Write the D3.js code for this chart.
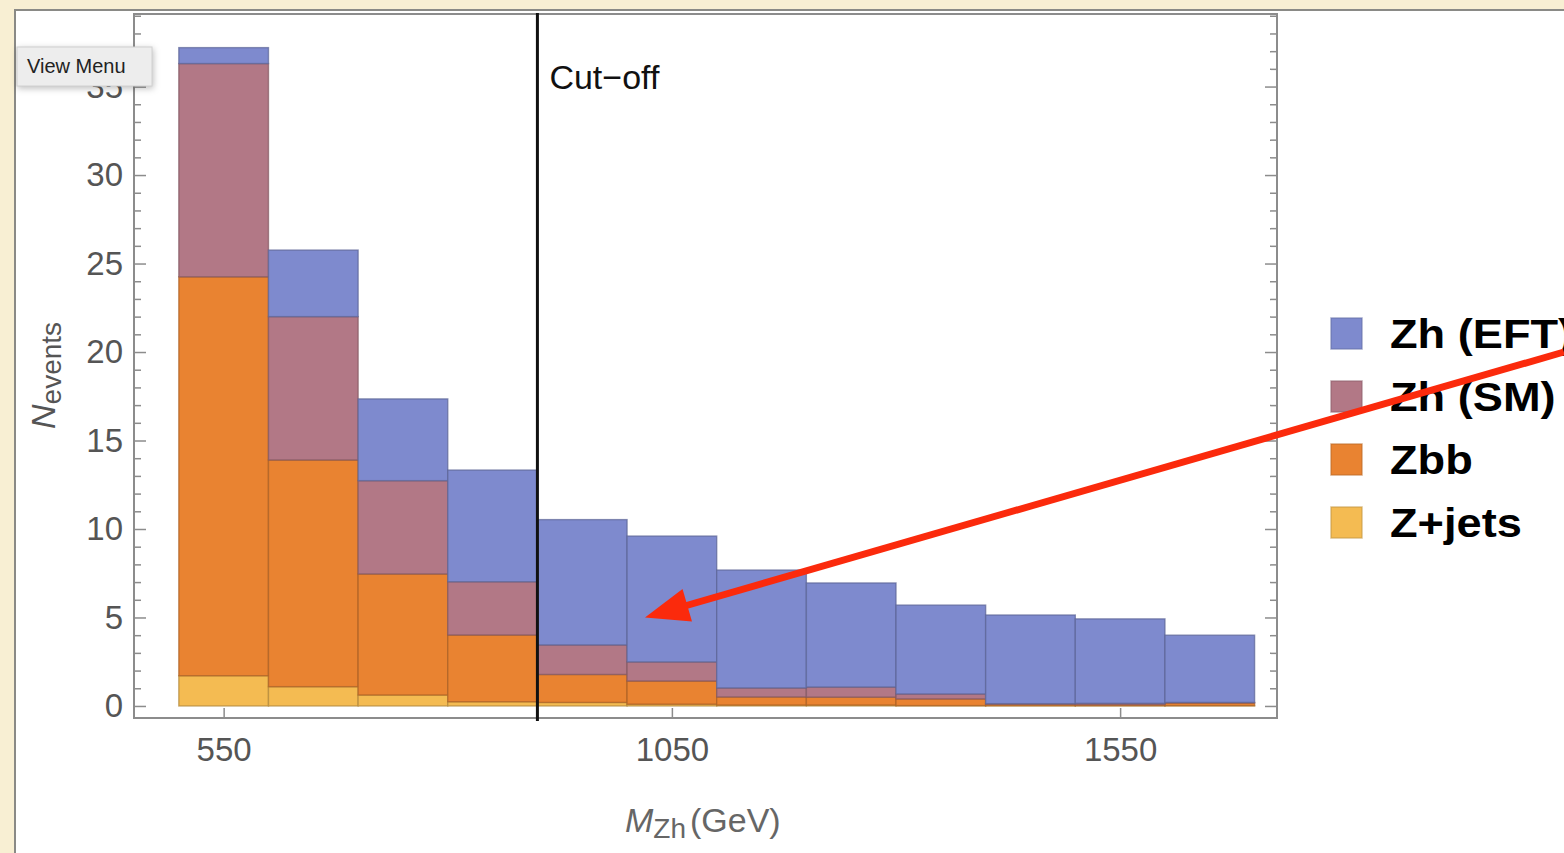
<!DOCTYPE html>
<html>
<head>
<meta charset="utf-8">
<script src="https://cdn.jsdelivr.net/npm/d3@7"></script>
<style>
body { margin: 0; background: #f8efd3; overflow: hidden; }
text { font-family: "Liberation Sans", Arial, sans-serif; }
</style>
</head>
<body>
<script>
// histogram bins (GeV), 100 GeV wide
var binStart = [500, 600, 700, 800, 900, 1000, 1100, 1200, 1300, 1400, 1500, 1600];
var binWidth = 100;
// events per bin, stacked bottom to top
var zJets = [1.71, 1.09, 0.62, 0.24, 0.20, 0.10, 0.05, 0.05, 0.02, 0.02, 0.02, 0.02];
var zbb   = [22.54, 12.81, 6.84, 3.77, 1.58, 1.31, 0.46, 0.45, 0.38, 0.08, 0.06, 0.15];
var zhSM  = [12.05, 8.10, 5.27, 3.01, 1.67, 1.08, 0.51, 0.57, 0.28, 0.03, 0.07, 0.03];
var zhEFT = [0.90, 3.76, 4.62, 6.31, 7.08, 7.11, 6.66, 5.88, 5.02, 5.01, 4.77, 3.80];

var legendNames = ["Zh (EFT)", "Zh (SM)", "Zbb", "Z+jets"];
var legendKeys = ["eft", "sm", "zbb", "zjets"];
var colors = {eft: "#7e8ace", sm: "#b27886", zbb: "#e98331", zjets: "#f4bb52"};
var xTicks = [550, 1050, 1550];
var yTicks = [0, 5, 10, 15, 20, 25, 30, 35];
var cutoff = 900;
// arrow from legend (off to the right) down to the EFT excess
var arrowFrom = [2045, 20];
var arrowTo = [1020, 5];

var W = 1564, H = 853;
var svg = d3.select("body").append("svg")
	.attr("width", W)
	.attr("height", H);

// white notebook panel
svg.append("rect")
	.attr("x", 15).attr("y", 10)
	.attr("width", W).attr("height", H)
	.attr("fill", "#fff")
	.attr("stroke", "#8a8a86")
	.attr("stroke-width", 2);

var plot = {left: 134, right: 1277, top: 14, bottom: 718};
var x = d3.scaleLinear().domain([450, 1725]).range([plot.left, plot.right]);
var y = d3.scaleLinear().domain([-0.68, 39.1]).range([plot.bottom, plot.top]);

var rows = binStart.map(function(b, i) {
	return {bin: b, zjets: zJets[i], zbb: zbb[i], sm: zhSM[i], eft: zhEFT[i]};
});
var stacked = d3.stack().keys(["zjets", "zbb", "sm", "eft"])(rows);

var g = svg.append("g");
stacked.forEach(function(layer) {
	var c = colors[layer.key];
	g.append("g").selectAll("rect")
		.data(layer)
		.enter()
		.append("rect")
		.attr("x", function(d) { return x(d.data.bin); })
		.attr("width", function(d) { return x(d.data.bin + binWidth) - x(d.data.bin); })
		.attr("y", function(d) { return y(d[1]); })
		.attr("height", function(d) { return Math.max(0, y(d[0]) - y(d[1])); })
		.attr("fill", c)
		.attr("stroke", d3.color(c).darker(0.9))
		.attr("stroke-opacity", 0.7)
		.attr("stroke-width", 1.4);
});

// frame + ticks
var axisColor = "#8c8c8c";
var yMinor = d3.range(0, 40, 1).filter(function(v) { return v % 5 != 0; });

svg.append("g").attr("transform", "translate(" + plot.left + ",0)")
	.call(d3.axisLeft(y).tickValues(yMinor).tickSize(-7).tickFormat(""));
svg.append("g").attr("transform", "translate(" + plot.left + ",0)")
	.call(d3.axisLeft(y).tickValues(yTicks).tickSize(-12).tickPadding(11));

svg.append("g").attr("transform", "translate(" + plot.right + ",0)")
	.call(d3.axisRight(y).tickValues(yMinor).tickSize(-7).tickFormat(""));
svg.append("g").attr("transform", "translate(" + plot.right + ",0)")
	.call(d3.axisRight(y).tickValues(yTicks).tickSize(-12).tickFormat(""));

svg.append("g").attr("transform", "translate(0," + plot.bottom + ")")
	.call(d3.axisBottom(x).tickValues(xTicks).tickSize(-10).tickPadding(20).tickFormat(d3.format("d")));

svg.selectAll(".domain").remove();
svg.selectAll(".tick line").attr("stroke", axisColor).attr("stroke-width", 1.5);
svg.selectAll(".tick text").attr("fill", "#555").attr("font-size", 33).attr("font-family", "Liberation Sans, Arial, sans-serif");

svg.append("rect")
	.attr("x", plot.left).attr("y", plot.top)
	.attr("width", plot.right - plot.left)
	.attr("height", plot.bottom - plot.top)
	.attr("fill", "none")
	.attr("stroke", axisColor)
	.attr("stroke-width", 2);

// cut-off line
svg.append("line")
	.attr("x1", x(cutoff)).attr("x2", x(cutoff))
	.attr("y1", plot.top - 1).attr("y2", plot.bottom + 3)
	.attr("stroke", "#111")
	.attr("stroke-width", 3);
svg.append("text")
	.attr("x", x(cutoff) + 12)
	.attr("y", 89)
	.attr("font-size", 34)
	.attr("fill", "#111")
	.text("Cut\u2212off");

// axis labels
var xl = svg.append("text")
	.attr("x", 625).attr("y", 832)
	.attr("font-size", 34)
	.attr("fill", "#666");
xl.append("tspan").attr("font-style", "italic").text("M");
xl.append("tspan").attr("font-size", 28).attr("dy", 6).text("Zh");
xl.append("tspan").attr("dy", -6).attr("dx", 4).text("(GeV)");

var yl = svg.append("text")
	.attr("transform", "translate(55,429) rotate(-90)")
	.attr("font-size", 34)
	.attr("fill", "#555");
yl.append("tspan").attr("font-style", "italic").text("N");
yl.append("tspan").attr("font-size", 28).attr("dy", 6).text("events");

// legend
var leg = svg.append("g");
legendKeys.forEach(function(k, i) {
	var ly = 318 + i * 63;
	leg.append("rect")
		.attr("x", 1331).attr("y", ly)
		.attr("width", 31).attr("height", 31)
		.attr("fill", colors[k])
		.attr("stroke", d3.color(colors[k]).darker(0.6))
		.attr("stroke-opacity", 0.6)
		.attr("stroke-width", 1.5);
	leg.append("text")
		.attr("transform", "translate(1390," + (ly + 30) + ") scale(1.13,1)")
		.attr("font-size", 40)
		.attr("font-weight", "bold")
		.attr("fill", "#000")
		.text(legendNames[i]);
});

// red arrow
var p0 = [x(arrowFrom[0]), y(arrowFrom[1])];
var p1 = [x(arrowTo[0]), y(arrowTo[1])];
var ang = Math.atan2(p1[1] - p0[1], p1[0] - p0[0]);
var headLen = 44, headHalf = 17;
var base = [p1[0] - headLen * Math.cos(ang), p1[1] - headLen * Math.sin(ang)];
svg.append("line")
	.attr("x1", p0[0]).attr("y1", p0[1])
	.attr("x2", base[0] + 8 * Math.cos(ang)).attr("y2", base[1] + 8 * Math.sin(ang))
	.attr("stroke", "#fb2a0c")
	.attr("stroke-width", 7);
svg.append("path")
	.attr("d", "M" + p1[0] + "," + p1[1] +
		"L" + (base[0] + headHalf * Math.sin(ang)) + "," + (base[1] - headHalf * Math.cos(ang)) +
		"L" + (base[0] - headHalf * Math.sin(ang)) + "," + (base[1] + headHalf * Math.cos(ang)) + "Z")
	.attr("fill", "#fb2a0c");

// "View Menu" popup
var vm = svg.append("g");
vm.append("rect")
	.attr("x", 17).attr("y", 47)
	.attr("width", 135).attr("height", 39)
	.attr("fill", "#ededed")
	.attr("stroke", "#d0d0d0")
	.attr("stroke-width", 1)
	.style("filter", "drop-shadow(1px 2px 3px rgba(0,0,0,0.25))");
vm.append("text")
	.attr("x", 27).attr("y", 73)
	.attr("font-size", 20)
	.attr("fill", "#222")
	.text("View Menu");
</script>
</body>
</html>
